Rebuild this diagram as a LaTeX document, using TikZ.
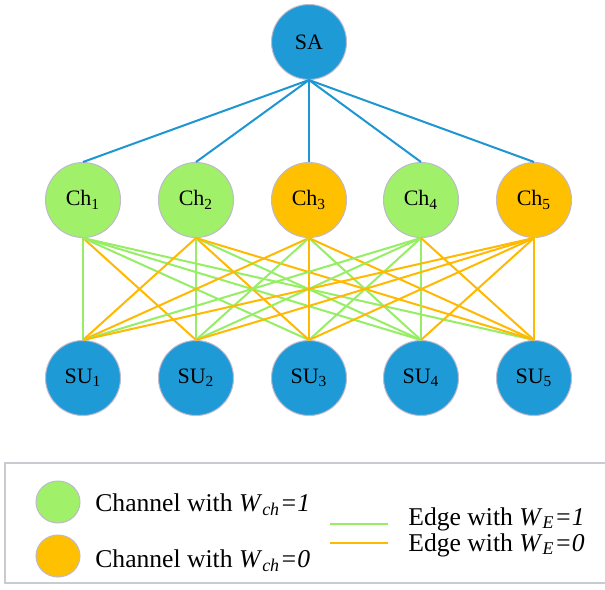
\documentclass[tikz,border=0pt]{standalone}
\usepackage{fontspec}
\setmainfont{Liberation Serif}
\usetikzlibrary{shapes.geometric}
\definecolor{nblue}{RGB}{30,155,215}
\definecolor{ngreen}{RGB}{160,240,105}
\definecolor{norange}{RGB}{255,192,0}
\definecolor{eblue}{RGB}{30,150,210}
\definecolor{egreen}{RGB}{150,238,100}
\definecolor{eorange}{RGB}{255,185,0}
\definecolor{nborder}{RGB}{190,185,205}
\definecolor{lborder}{RGB}{200,204,208}
\begin{document}
\begin{tikzpicture}[x=0.5pt,y=-0.5pt,
  nd/.style={circle,draw=nborder,line width=0.5pt,minimum size=37.5pt,inner sep=0pt,
    font=\fontsize{11}{13}\selectfont},
  bnode/.style={nd,fill=nblue},
  gnode/.style={nd,fill=ngreen},
  onode/.style={nd,fill=norange},
  bedge/.style={draw=eblue,line width=1pt},
  gedge/.style={draw=egreen,line width=1pt},
  oedge/.style={draw=eorange,line width=1pt},
  lgtext/.style={anchor=west,inner sep=0pt,font=\fontsize{12.8}{15}\selectfont},
  lgdot/.style={ellipse,draw=nborder,line width=0.5pt,minimum width=22pt,minimum height=21pt,inner sep=0pt}]
\useasboundingbox (0,0) rectangle (605,589);
\clip (0,0) rectangle (605,589);
\fill[white] (0,0) rectangle (605,589);

% nodes
\node[bnode] (sa) at (309,42) {SA};
\node[gnode] (c1) at (83,200) {Ch\textsubscript{1}};
\node[gnode] (c2) at (196,200) {Ch\textsubscript{2}};
\node[onode] (c3) at (309,200) {Ch\textsubscript{3}};
\node[gnode] (c4) at (421,200) {Ch\textsubscript{4}};
\node[onode] (c5) at (534,200) {Ch\textsubscript{5}};
\node[bnode] (s1) at (83,378) {SU\textsubscript{1}};
\node[bnode] (s2) at (196,378) {SU\textsubscript{2}};
\node[bnode] (s3) at (309,378) {SU\textsubscript{3}};
\node[bnode] (s4) at (421,378) {SU\textsubscript{4}};
\node[bnode] (s5) at (534,378) {SU\textsubscript{5}};

% SA to channels
\foreach \c in {c1,c2,c3,c4,c5} \draw[bedge] (sa.south) -- (\c.north);

% channel to SU edges
\draw[gedge] (c1.south) -- (s1.north);
\draw[oedge] (c1.south) -- (s2.north);
\draw[gedge] (c1.south) -- (s3.north);
\draw[gedge] (c1.south) -- (s4.north);
\draw[gedge] (c1.south) -- (s5.north);

\draw[oedge] (c2.south) -- (s1.north);
\draw[gedge] (c2.south) -- (s2.north);
\draw[oedge] (c2.south) -- (s3.north);
\draw[gedge] (c2.south) -- (s4.north);
\draw[oedge] (c2.south) -- (s5.north);

\draw[oedge] (c3.south) -- (s1.north);
\draw[gedge] (c3.south) -- (s2.north);
\draw[oedge] (c3.south) -- (s3.north);
\draw[gedge] (c3.south) -- (s4.north);
\draw[oedge] (c3.south) -- (s5.north);

\draw[gedge] (c4.south) -- (s1.north);
\draw[gedge] (c4.south) -- (s2.north);
\draw[gedge] (c4.south) -- (s3.north);
\draw[gedge] (c4.south) -- (s4.north);
\draw[oedge] (c4.south) -- (s5.north);

\draw[oedge] (c5.south) -- (s1.north);
\draw[oedge] (c5.south) -- (s2.north);
\draw[oedge] (c5.south) -- (s3.north);
\draw[oedge] (c5.south) -- (s4.north);
\draw[oedge] (c5.south) -- (s5.north);

% legend
\draw[draw=lborder,line width=0.8pt] (5,463) rectangle (640,583);
\node[lgdot,fill=ngreen] (lg1) at (58,502) {};
\node[lgdot,fill=norange] (lg2) at (58,556) {};
\node[lgtext] (lt1) at (95,505) {Channel with \textit{W}\textsubscript{\textit{ch}}\textit{=1}};
\node[lgtext] (lt2) at (95,561) {Channel with \textit{W}\textsubscript{\textit{ch}}\textit{=0}};
\coordinate (la1) at (330,524);
\coordinate (lb1) at (388,524);
\coordinate (la2) at (330,543);
\coordinate (lb2) at (388,543);
\draw[gedge] (la1) -- (lb1);
\draw[oedge] (la2) -- (lb2);
\node[lgtext] (lt3) at (408,519) {Edge with \textit{W}\textsubscript{\textit{E}}\textit{=1}};
\node[lgtext] (lt4) at (408,545) {Edge with \textit{W}\textsubscript{\textit{E}}\textit{=0}};
\end{tikzpicture}
\end{document}
